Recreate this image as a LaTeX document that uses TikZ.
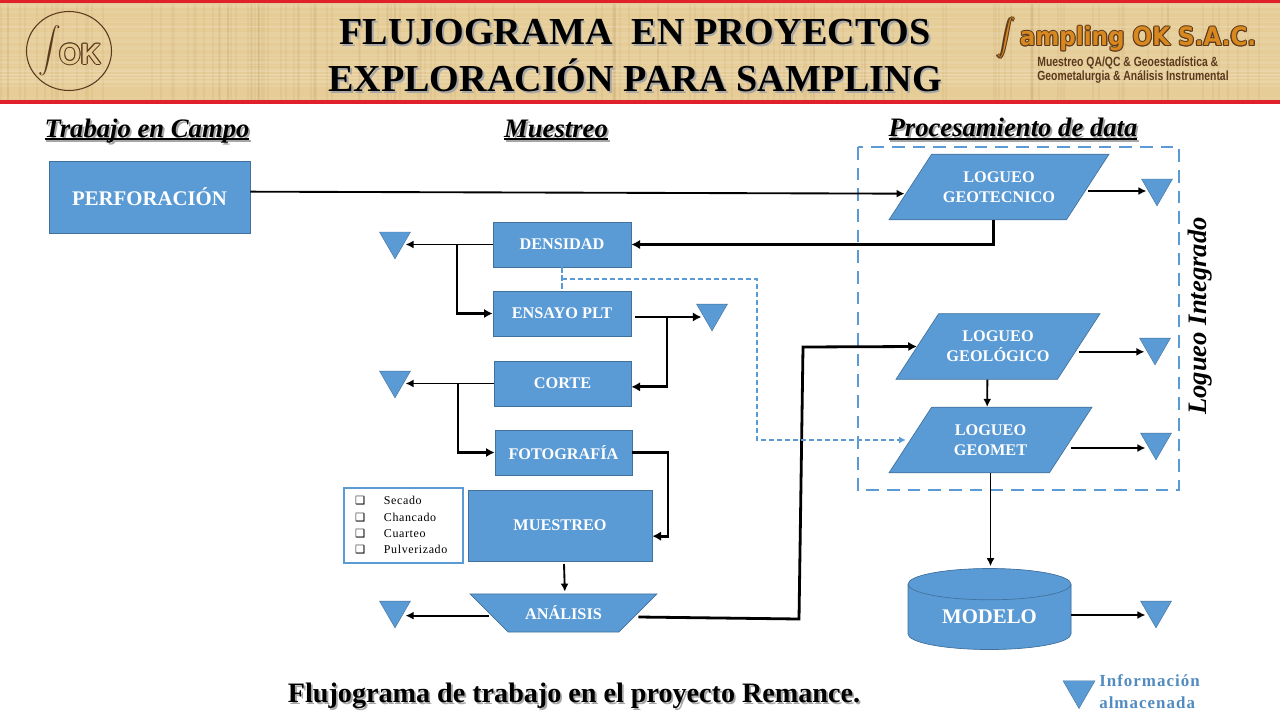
\documentclass[tikz,border=0pt]{standalone}
\usepackage{fontspec}
\usepackage{xcolor}
\usetikzlibrary{arrows.meta,shapes.geometric}
\setmainfont{Liberation Serif}
\newfontfamily\simbolos{DejaVu Sans}
\newfontfamily\rotulo{Liberation Sans}
\newfontfamily\gruesa{DejaVu Sans}
\definecolor{azulcaja}{HTML}{5B9BD5}
\definecolor{bordecaja}{HTML}{41719C}
\definecolor{papiro}{HTML}{E6CC96}
\definecolor{rojobarra}{HTML}{E0202A}
\definecolor{cafelogo}{HTML}{5A3A1E}
\definecolor{naranjalogo}{HTML}{D9871F}
\newcommand{\px}{0.75pt}
\newcommand{\sombra}[1]{\leavevmode\rlap{\hspace{1.4pt}\raisebox{-1.4pt}{\textcolor{black!35}{#1}}}#1}
\newcommand{\subr}[1]{\setbox0\hbox{#1}\rlap{\raisebox{-2pt}{\rule{\wd0}{1.3pt}}}\box0}
\newcommand{\halo}[3]{\leavevmode\foreach \dx/\dy in {-.8/0,.8/0,0/-.8,0/.8,-.6/-.6,.6/.6,-.6/.6,.6/-.6}%
  {\rlap{\hspace{\dx pt}\raisebox{\dy pt}{\textcolor{#1}{#3}}}}\textcolor{#2}{#3}}
\newcommand{\casilla}[1]{\makebox[21.7pt][l]{\simbolos\bfseries\fontsize{8.5}{8.5}\selectfont ❑}#1}
\begin{document}
\begin{tikzpicture}[x=0.75pt,y=-0.75pt,
    caja/.style={draw=bordecaja,fill=azulcaja,text=white,font=\bfseries\fontsize{12.2}{15}\selectfont,
      align=center,inner sep=0pt,line width=0.5pt},
    paralelo/.style={caja,trapezium,trapezium left angle=57,trapezium right angle=123,
      trapezium stretches body,inner ysep=13pt,inner xsep=0pt},
    tri/.style={draw=bordecaja,fill=azulcaja,regular polygon,regular polygon sides=3,
      shape border rotate=180,minimum size=35.8*\px,inner sep=0pt,line width=0.3pt},
    flecha/.style={-{Latex[length=6pt,width=6pt]},line width=1.4pt},
    flechaG/.style={-{Latex[length=6.5pt,width=7pt]},line width=2.1pt},
    punteada/.style={azulcaja,line width=1.4pt,dash pattern=on 4pt off 2pt},
    titulo/.style={font=\bfseries\fontsize{28.6}{30}\selectfont,inner sep=0pt},
    seccion/.style={font=\bfseries\itshape\fontsize{20}{22}\selectfont,inner sep=0pt}]
  \useasboundingbox (0,0) rectangle (1280,720);
  % franja de arriba
  \fill[papiro] (0,0) rectangle (1280,104);
  \pgfmathsetseed{11}
  \foreach \i in {1,...,150} {
    \pgfmathsetmacro{\xa}{rnd*1280}
    \draw[brown!70!black,opacity=0.06,line width=1.5pt] (\xa,4) -- (\xa,100);
  }
  \foreach \i in {1,...,40} {
    \pgfmathsetmacro{\ya}{4+rnd*96}
    \draw[white,opacity=0.10,line width=1pt] (0,\ya) -- (1280,\ya);
  }
  \fill[rojobarra] (0,0) rectangle (1280,3);
  \fill[rojobarra] (0,100) rectangle (1280,104);
  % logos
  \node[draw=cafelogo,line width=0.8pt,ellipse,minimum width=85*\px,minimum height=79*\px,inner sep=0pt] (sello) at (69,51) {};
  \node[inner sep=0pt,text=cafelogo] (selloS) at (50,51) {\scalebox{1.7}{$\displaystyle\int$}};
  \node[inner sep=0pt] (selloOK) at (80,54) {\halo{cafelogo}{papiro}{\rotulo\bfseries\fontsize{22}{22}\selectfont\scalebox{0.95}[1]{OK}}};
  \node[inner sep=0pt] (marcaS) at (1006,38) {\halo{cafelogo}{naranjalogo}{\scalebox{1.35}{$\displaystyle\int$}}};
  \node[inner sep=0pt] (marca) at (1138,39) {\halo{cafelogo}{naranjalogo}{\gruesa\bfseries\fontsize{19}{19}\selectfont\scalebox{0.91}[1]{ampling OK S.A.C.}}};
  \node[inner sep=0pt,align=left,text=cafelogo,font=\rotulo\bfseries\fontsize{10}{11}\selectfont] (lema) at (1133,70)
    {\scalebox{0.78}[1]{Muestreo QA/QC \& Geoestadística \&}\\\scalebox{0.78}[1]{Geometalurgia \& Análisis Instrumental}};
  % titulos
  \node[titulo] (tituloA) at (635,33) {\sombra{FLUJOGRAMA\ \ EN PROYECTOS}};
  \node[titulo] (tituloB) at (635,76) {\sombra{EXPLORACIÓN PARA SAMPLING}};
  \node[seccion] (campo) at (147,132) {\sombra{\subr{Trabajo en Campo}}};
  \node[seccion] (muestreoT) at (556,131) {\sombra{\subr{Muestreo}}};
  \node[seccion] (procesoT) at (1013,130) {\sombra{\subr{Procesamiento de data}}};
  \node[seccion,rotate=90] (integrado) at (1200,316) {Logueo Integrado};
  \node[inner sep=0pt,font=\bfseries\fontsize{21.1}{24}\selectfont] (pie) at (574,697) {\sombra{Flujograma de trabajo en el proyecto Remance.}};
  % zona punteada
  \draw[azulcaja,line width=2.2pt,dash pattern=on 9.5pt off 6pt] (858,147) rectangle (1179,490);
  % cajas
  \node[caja,font=\bfseries\fontsize{15.6}{18}\selectfont,minimum width=201*\px,minimum height=72*\px] (perforacion) at (149.5,197) {PERFORACIÓN};
  \node[caja,minimum width=138*\px,minimum height=45*\px] (densidad) at (562,244.5) {DENSIDAD};
  \node[caja,minimum width=138*\px,minimum height=45*\px] (ensayo) at (562,313.5) {ENSAYO PLT};
  \node[caja,minimum width=137*\px,minimum height=45*\px] (corte) at (562.5,383.5) {CORTE};
  \node[caja,minimum width=137*\px,minimum height=45*\px] (foto) at (563.5,452.5) {FOTOGRAFÍA};
  \node[caja,minimum width=184*\px,minimum height=71*\px] (muestreo) at (560,525.5) {MUESTREO};
  \node[caja,trapezium,shape border rotate=180,trapezium left angle=45,trapezium right angle=45,
    trapezium stretches body,inner ysep=9pt,minimum width=187*\px] (analisis) at (563.5,613) {ANÁLISIS};
  \node[paralelo,minimum width=220*\px] (geotec) at (999,187) {LOGUEO\\GEOTECNICO};
  \node[paralelo,minimum width=204*\px] (geolog) at (998,346.5) {LOGUEO\\GEOLÓGICO};
  \node[paralelo,minimum width=203*\px] (geomet) at (990.5,440) {LOGUEO\\GEOMET};
  \node[caja,cylinder,shape border rotate=90,shape aspect=0.33,cylinder uses custom fill,
    cylinder body fill=azulcaja,cylinder end fill=azulcaja,font=\bfseries\fontsize{15.6}{18}\selectfont,
    minimum width=163*\px,minimum height=81*\px] (modelo) at (989.5,617) {MODELO};
  \node[draw=azulcaja,line width=1.5pt,fill=white,minimum width=119*\px,minimum height=75*\px,inner sep=0pt,
    align=left,font=\addfontfeature{LetterSpace=5}\fontsize{9}{12.3}\selectfont] (lista) at (403.5,525.5)
    {\casilla{Secado}\\\casilla{Chancado}\\\casilla{Cuarteo}\\\casilla{Pulverizado}\hspace*{3.5pt}};
  % triangulos
  \foreach \nombre/\x/\y in {triDens/395/241,triPlt/712/313,triCorte/395/380,triAnal/395/610,
      triGeotec/1157/188,triGeolog/1155/347,triGeomet/1156/442,triModelo/1156/610}
    \node[tri] (\nombre) at (\x,\y) {};
  \node[tri,minimum size=37*\px] (triLeyenda) at (1079,690) {};
  \node[inner sep=0pt,align=left,text=azulcaja!90!black,font=\addfontfeature{LetterSpace=6}\bfseries\fontsize{12.7}{16.5}\selectfont,anchor=west] (leyenda) at (1099,692)
    {Información\\almacenada};
  % uniones
  \coordinate (ramaDens) at (457,244.5);
  \coordinate (ramaCorte) at (458,383.5);
  \coordinate (salePlt) at (635,317);
  \coordinate (ramaPlt) at (667,317);
  \coordinate (codoFoto) at (668,452.5);
  \coordinate (codoA) at (799,619);
  \coordinate (codoB) at (803,347);
  \coordinate (ramaDash) at (562,279);
  \coordinate (codoDash) at (757,279);
  \draw[flecha] ([yshift=4pt]perforacion.east) -- ([xshift=-4pt,yshift=-5pt]geotec.west);
  \draw[flechaG] ([xshift=-4pt]geotec.south) |- (densidad.east);
  \draw[flecha] (densidad.west) -- (densidad.west -| triDens.east);
  \draw[flechaG] (ramaDens) |- (ensayo.west);
  \draw[flechaG] (salePlt) -- (salePlt -| triPlt.west);
  \draw[flechaG] (ramaPlt) |- ([yshift=-2.5pt]corte.east);
  \draw[flecha] (corte.west) -- (corte.west -| triCorte.east);
  \draw[flechaG] (ramaCorte) |- (foto.west);
  \draw[flechaG] (foto.east) -- (codoFoto) |- ([yshift=-8pt]muestreo.east);
  \draw[flecha] ([xshift=3pt,yshift=-2pt]muestreo.south) -- ([xshift=1pt,yshift=1.5pt]analisis.north);
  \draw[flecha] ([yshift=-2pt]analisis.west) -- ([yshift=-2pt]analisis.west -| triAnal.east);
  \draw[flechaG] ([yshift=-3pt]analisis.east) -- (codoA) -- (codoB) -- (geolog.west);
  \draw[flecha] ([yshift=-3pt]geotec.east) -- ([yshift=-3pt]geotec.east -| triGeotec.west);
  \draw[flecha] ([yshift=-4pt]geolog.east) -- ([yshift=-4pt]geolog.east -| triGeolog.west);
  \draw[flecha] ([yshift=-6pt]geomet.east) -- ([yshift=-6pt]geomet.east -| triGeomet.west);
  \draw[flecha] ([xshift=-8pt]geolog.south) -- ([xshift=-2.5pt]geomet.north);
  \draw[flecha] (geomet.south) -- ([yshift=1.5pt]modelo.north -| geomet.south);
  \draw[flecha] ([yshift=1.5pt]modelo.east) -- ([yshift=1.5pt]modelo.east -| triModelo.west);
  \draw[punteada] (densidad.south) -- (ensayo.north);
  \draw[punteada,-{Latex[length=5pt,width=5pt]}] (ramaDash) -- (codoDash) |- ([xshift=-3pt]geomet.west);
\end{tikzpicture}
\end{document}
